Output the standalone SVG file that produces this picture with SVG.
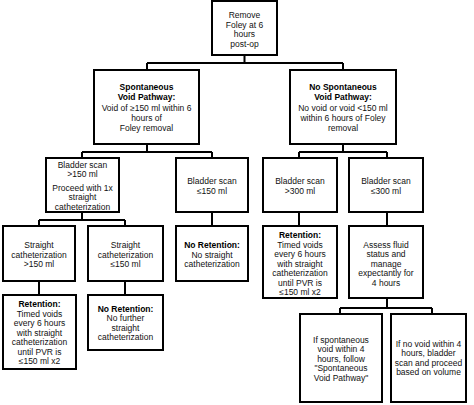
<svg xmlns="http://www.w3.org/2000/svg" width="474" height="405" viewBox="0 0 474 405">
<style>
.box{fill:#fff;stroke:#000;stroke-width:2}
.ln{fill:none;stroke:#000;stroke-width:2}
text{font-family:"Liberation Sans",Arial,sans-serif;font-size:8.5px;fill:#111;text-anchor:middle}
.b{font-weight:bold;fill:#000}
</style>
<rect width="474" height="405" fill="#fff"/>
<g id="connectors">
<path class="ln" d="M244.5 55V63M147 63H343M147 63V70M343 63V70"/>
<path class="ln" d="M147 144V152M82 152H212M82 152V158M212 152V158"/>
<path class="ln" d="M343 144V152M299 152H387M299 152V158M387 152V158"/>
<path class="ln" d="M82 212V220M39 220H125M39 220V226M125 220V226"/>
<path class="ln" d="M212 212V226M299 212V226M387 212V226"/>
<path class="ln" d="M39 281V295M125 281V295"/>
<path class="ln" d="M387 298V308M340 308H432M340 308V314M432 308V314"/>
</g>
<g id="n1"><rect class="box" x="212" y="1" width="65" height="54"/>
<text x="244.5" y="18">Remove</text><text x="244.5" y="27.7">Foley at 6</text><text x="244.5" y="37.4">hours</text><text x="244.5" y="47.1">post-op</text></g>
<g id="n2"><rect class="box" x="94" y="70" width="105" height="74"/>
<text class="b" x="146.5" y="90">Spontaneous</text><text class="b" x="146.5" y="99.5">Void Pathway:</text><text x="146.5" y="110.5">Void of ≥150 ml within 6</text><text x="146.5" y="120.5">hours of</text><text x="146.5" y="130.5">Foley removal</text></g>
<g id="n3"><rect class="box" x="290" y="70" width="106" height="74"/>
<text class="b" x="343" y="90">No Spontaneous</text><text class="b" x="343" y="99.5">Void Pathway:</text><text x="343" y="110.5">No void or void &lt;150 ml</text><text x="343" y="120.5">within 6 hours of Foley</text><text x="343" y="130.5">removal</text></g>
<g id="n4"><rect class="box" x="46" y="158" width="73" height="54"/>
<text x="82.5" y="167.5">Bladder scan</text><text x="82.5" y="177">&gt;150 ml</text><text x="82.5" y="190.7">Proceed with 1x</text><text x="82.5" y="200">straight</text><text x="82.5" y="209.5">catheterization</text></g>
<g id="n5"><rect class="box" x="176" y="158" width="72" height="54"/>
<text x="212" y="184">Bladder scan</text><text x="212" y="193.5">≤150 ml</text></g>
<g id="n6"><rect class="box" x="263" y="158" width="74" height="54"/>
<text x="300" y="184">Bladder scan</text><text x="300" y="193.5">&gt;300 ml</text></g>
<g id="n7"><rect class="box" x="349" y="158" width="74" height="54"/>
<text x="386" y="184">Bladder scan</text><text x="386" y="193.5">≤300 ml</text></g>
<g id="n8"><rect class="box" x="3" y="226" width="72" height="55"/>
<text x="39" y="248">Straight</text><text x="39" y="257.5">catheterization</text><text x="39" y="267">&gt;150 ml</text></g>
<g id="n9"><rect class="box" x="88" y="226" width="75" height="55"/>
<text x="125.5" y="248">Straight</text><text x="125.5" y="257.5">catheterization</text><text x="125.5" y="267">≤150 ml</text></g>
<g id="n10"><rect class="box" x="176" y="226" width="72" height="55"/>
<text class="b" x="212" y="248">No Retention:</text><text x="212" y="257.5">No straight</text><text x="212" y="267">catheterization</text></g>
<g id="n11"><rect class="box" x="263" y="226" width="74" height="72"/>
<text class="b" x="300" y="238">Retention:</text><text x="300" y="247.5">Timed voids</text><text x="300" y="257">every 6 hours</text><text x="300" y="266.5">with straight</text><text x="300" y="276">catheterization</text><text x="300" y="285.5">until PVR is</text><text x="300" y="295">≤150 ml x2</text></g>
<g id="n12"><rect class="box" x="349" y="226" width="74" height="72"/>
<text x="386" y="247.5">Assess fluid</text><text x="386" y="257">status and</text><text x="386" y="266.5">manage</text><text x="386" y="276">expectantly for</text><text x="386" y="285.5">4 hours</text></g>
<g id="n13"><rect class="box" x="3" y="295" width="73" height="74"/>
<text class="b" x="39.5" y="307">Retention:</text><text x="39.5" y="316.5">Timed voids</text><text x="39.5" y="326">every 6 hours</text><text x="39.5" y="335.5">with straight</text><text x="39.5" y="345">catheterization</text><text x="39.5" y="354.5">until PVR is</text><text x="39.5" y="364">≤150 ml x2</text></g>
<g id="n14"><rect class="box" x="88" y="295" width="75" height="55"/>
<text class="b" x="125.5" y="311.5">No Retention:</text><text x="125.5" y="321">No further</text><text x="125.5" y="330.5">straight</text><text x="125.5" y="340">catheterization</text></g>
<g id="n15"><rect class="box" x="300" y="314" width="82" height="88"/>
<text x="341" y="342.5">If spontaneous</text><text x="341" y="352">void within 4</text><text x="341" y="361.5">hours, follow</text><text x="341" y="371">"Spontaneous</text><text x="341" y="380.5">Void Pathway"</text></g>
<g id="n16"><rect class="box" x="391" y="314" width="75" height="88"/>
<text x="428.5" y="346.5">If no void within 4</text><text x="428.5" y="356">hours, bladder</text><text x="428.5" y="365.5">scan and proceed</text><text x="428.5" y="375">based on volume</text></g>
</svg>
